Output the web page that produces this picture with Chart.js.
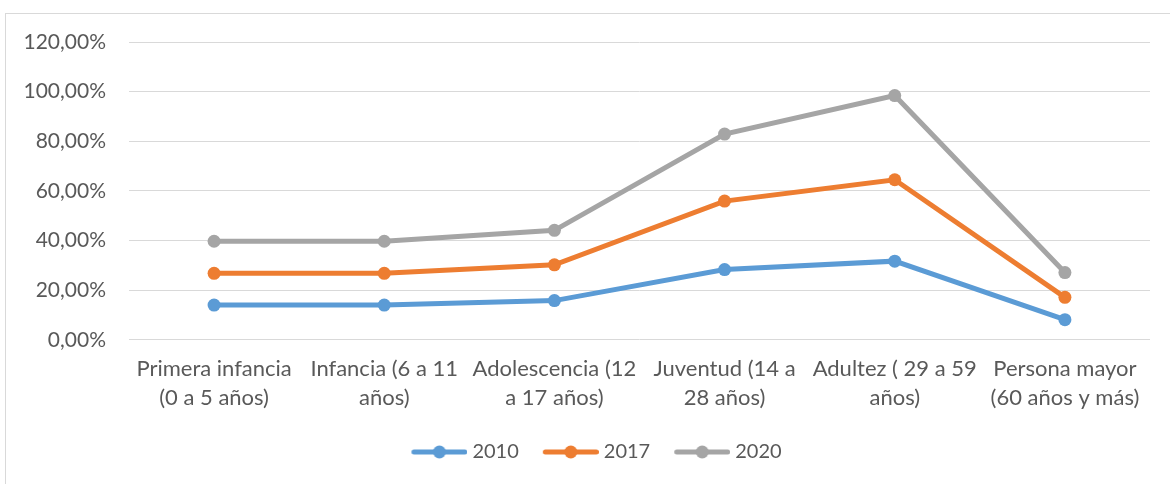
<!DOCTYPE html>
<html>
<head>
<meta charset="utf-8">
<script src="https://cdn.jsdelivr.net/npm/chart.js@4/dist/chart.umd.min.js"></script>
<style>
  html, body { margin: 0; padding: 0; background: #fff; }
  #marco { position: absolute; left: 5px; top: 13px; width: 1300px; height: 600px; border: 1px solid #d9d9d9; box-sizing: border-box; }
  #wrap { position: absolute; left: 0; top: 0; width: 1170px; height: 484px; }
</style>
</head>
<body>
<div id="marco"></div>
<div id="wrap"><canvas id="grafico"></canvas></div>
<script>
// categorías (etiquetas en dos líneas)
var categorias = [
  ["Primera infancia", "(0 a 5 años)"],
  ["Infancia (6 a 11", "años)"],
  ["Adolescencia (12", "a 17 años)"],
  ["Juventud (14 a", "28 años)"],
  ["Adultez ( 29 a 59", "años)"],
  ["Persona mayor", "(60 años y más)"]
];

// valores en %
var serie2010 = [14.0, 14.0, 15.8, 28.3, 31.7, 8.1];
var serie2017 = [26.8, 26.8, 30.2, 55.9, 64.5, 17.1];
var serie2020 = [39.7, 39.7, 44.1, 82.9, 98.4, 27.1];

var ticksY = [0, 20, 40, 60, 80, 100, 120];

var colores = ["#5B9BD5", "#ED7D31", "#A5A5A5"];
var gris = "#595959";

// muestra de leyenda: línea + círculo (pegada a la derecha, cerca del texto)
function muestra(color) {
  var c = document.createElement("canvas");
  c.width = 75; c.height = 16;
  var g = c.getContext("2d");
  g.strokeStyle = color;
  g.lineWidth = 5;
  g.lineCap = "round";
  g.beginPath(); g.moveTo(21.5, 8); g.lineTo(72.5, 8); g.stroke();
  g.fillStyle = color;
  g.beginPath(); g.arc(47, 8, 6.5, 0, Math.PI * 2); g.fill();
  return c;
}

function serie(nombre, datos, color) {
  return {
    label: nombre,
    data: datos,
    borderColor: color,
    backgroundColor: color,
    pointBackgroundColor: color,
    pointBorderColor: color,
    borderWidth: 5,
    pointRadius: 6.5,
    pointBorderWidth: 0,
    tension: 0,
    pointStyle: "circle",
    muestra: muestra(color)
  };
}

// corre la leyenda un poco a la derecha
var moverLeyenda = {
  id: "moverLeyenda",
  afterLayout: function (chart) {
    chart.legend.left += 14.5;
    chart.legend.right += 14.5;
  }
};

var ctx = document.getElementById("grafico");
var grafico = new Chart(ctx, {
  type: "line",
  data: {
    labels: categorias,
    datasets: [
      serie("2010", serie2010, colores[0]),
      serie("2017", serie2017, colores[1]),
      serie("2020", serie2020, colores[2])
    ]
  },
  plugins: [moverLeyenda],
  options: {
    responsive: true,
    maintainAspectRatio: false,
    animation: false,
    layout: { padding: { top: 42, right: 20, bottom: 12, left: 0 } },
    plugins: {
      tooltip: { enabled: false },
      legend: {
        position: "bottom",
        labels: {
          usePointStyle: true,
          pointStyleWidth: 65,
          padding: 10,
          color: gris,
          font: { family: "Lato", size: 20 },
          generateLabels: function (chart) {
            return chart.data.datasets.map(function (ds, i) {
              return {
                text: ds.label,
                pointStyle: ds.muestra,
                fillStyle: ds.borderColor,
                strokeStyle: ds.borderColor,
                lineWidth: 0,
                fontColor: gris,
                datasetIndex: i,
                hidden: false
              };
            });
          }
        }
      }
    },
    scales: {
      x: {
        offset: true,
        grid: { display: false },
        border: { display: false },
        ticks: {
          color: gris,
          padding: 7,
          maxRotation: 0,
          autoSkip: false,
          font: { family: "Lato", size: 22, lineHeight: 1.3 }
        },
        afterFit: function (scale) { scale.height += 13; }
      },
      y: {
        min: 0,
        max: 120,
        afterBuildTicks: function (scale) {
          scale.ticks = ticksY.map(function (v) { return { value: v }; });
        },
        grid: { color: "#d9d9d9", lineWidth: 1, drawTicks: false },
        border: { display: false },
        ticks: {
          color: gris,
          padding: 23,
          font: { family: "Lato", size: 21 },
          callback: function (v) { return v.toFixed(2).replace(".", ",") + "%"; }
        },
        afterFit: function (scale) { scale.width = 129; }
      }
    }
  }
});
</script>
</body>
</html>
